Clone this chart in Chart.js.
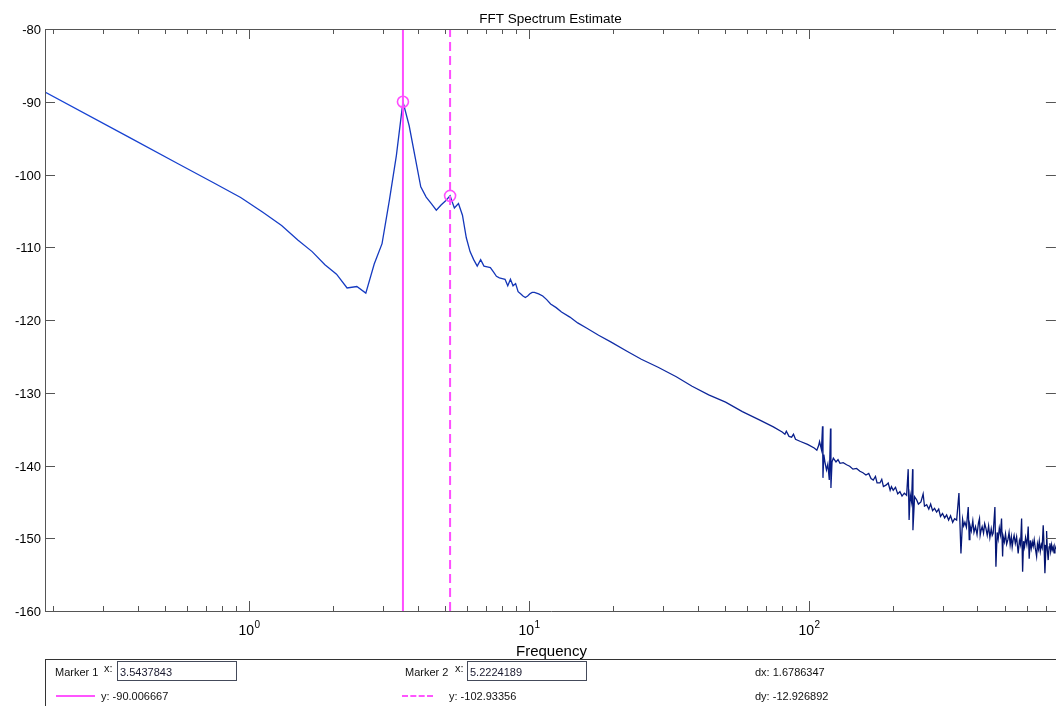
<!DOCTYPE html>
<html>
<head>
<meta charset="utf-8">
<title>FFT Spectrum Estimate</title>
<script src="https://cdn.jsdelivr.net/npm/chart.js@4.4.1/dist/chart.umd.min.js"></script>
<style>
  html, body { margin: 0; padding: 0; background: #fff; overflow: hidden; }
  body { width: 1056px; height: 706px; position: relative; font-family: Arial, "Liberation Sans", sans-serif; }
  #spectrum { position: absolute; left: 0; top: 0; }
  #panel { position: absolute; left: 45px; top: 659px; width: 1020px; height: 60px;
           border-top: 1px solid #333; border-left: 1px solid #333; }
  .t { position: absolute; font-size: 11px; line-height: 12px; color: #111; white-space: nowrap; }
  .box { position: absolute; height: 20px; border: 1px solid #444a5a; background: #fff;
         font-size: 11px; line-height: 20px; padding-left: 2px; box-sizing: border-box; color: #1a1a30; }
  .solid { position: absolute; height: 2px; background: #ff55ff; }
  .dash { position: absolute; height: 0; border-top: 2px dashed #ff55ff; }
</style>
</head>
<body>
<!-- the plot box runs to the right window edge; the canvas is a little wider so the point overflow padding lands off-screen -->
<canvas id="spectrum" width="1063" height="706"></canvas>

<div class="t" style="left:55px;top:666px">Marker 1</div>
<div class="t" style="left:104px;top:662px">x:</div>
<div class="box" id="m1x" style="left:117px;top:661px;width:120px"></div>
<div class="solid" style="left:56px;top:695px;width:39px"></div>
<div class="t" id="m1y" style="left:101px;top:690px"></div>

<div class="t" style="left:405px;top:666px">Marker 2</div>
<div class="t" style="left:455px;top:662px">x:</div>
<div class="box" id="m2x" style="left:467px;top:661px;width:120px"></div>
<div class="dash" style="left:402px;top:695px;width:31px"></div>
<div class="t" id="m2y" style="left:449px;top:690px"></div>

<div class="t" id="mdx" style="left:755px;top:666px"></div>
<div class="t" id="mdy" style="left:755px;top:690px"></div>
<div id="panel"></div>

<script>
// spectrum estimate, frequency in Hz and power in dB
const freqHz = [
  0.1865, 0.3730, 0.5595, 0.7460, 0.9326, 1.119, 1.306, 1.492, 1.679, 1.865,
  2.052, 2.238, 2.425, 2.611, 2.798, 2.984, 3.171, 3.357, 3.5437843, 3.730,
  3.917, 4.103, 4.290, 4.476, 4.663, 4.849, 5.036, 5.2224189, 5.409, 5.595,
  5.782, 5.968, 6.155, 6.341, 6.528, 6.715, 6.901, 7.088, 7.274, 7.461,
  7.647, 7.834, 8.020, 8.207, 8.393, 8.580, 8.766, 8.953, 9.139, 9.326,
  9.512, 9.699, 9.885, 10.07, 10.26, 10.45, 10.63, 10.82, 11.19, 11.56,
  11.94, 12.50, 13.06, 13.99, 14.92, 16.04, 17.72, 19.58, 22.38, 25.18,
  28.91, 33.57, 38.23, 43.83, 50.36, 57.82, 66.21, 74.60, 80.20, 82.06,
  83.00, 84.86, 86.73, 88.03, 89.52, 93.26, 98.85, 104.4, 106.7, 108.2,
  109.1, 110.8, 111.8, 112.2, 113.0, 114.0, 115.5, 116.8, 118.2, 119.4,
  119.8, 120.9, 122.2, 124.9, 127.0, 129.1, 132.5, 136.3, 139.8, 143.6,
  147.9, 152.1, 155.9, 159.8, 163.5, 166.6, 169.7, 172.8, 175.1, 179.3,
  182.0, 184.5, 188.4, 191.9, 195.0, 197.1, 200.0, 203.8, 207.5, 211.3,
  215.0, 219.1, 223.3, 226.2, 227.9, 230.0, 232.5, 234.6, 235.2, 238.4,
  242.4, 246.0, 251.2, 255.8, 258.6, 263.3, 268.0, 272.1, 276.5, 280.9,
  285.8, 290.7, 295.0, 300.0, 305.3, 310.3, 315.4, 320.5, 326.1, 331.4,
  337.0, 343.4, 349.1, 353.9, 357.0, 360.7, 365.2, 370.7, 373.7, 375.8,
  380.1, 384.9, 388.6, 393.5, 398.5, 403.2, 406.6, 408.9, 412.1, 415.7,
  420.4, 424.4, 428.6, 433.4, 438.3, 442.9, 447.9, 451.6, 455.2, 461.6,
  465.5, 470.2, 474.3, 478.6, 483.0, 487.5, 491.8, 494.3, 498.9, 503.7,
  508.5, 513.7, 518.7, 523.4, 528.4, 532.1, 536.5, 540.6, 546.0, 551.8,
  559.0, 564.8, 570.0, 575.0, 579.8, 584.3, 589.1, 594.0, 600.4, 603.5,
  607.0, 612.0, 617.4, 622.6, 627.8, 632.6, 637.8, 643.2, 650.5, 655.1,
  660.5, 665.0, 670.6, 676.1, 681.0, 686.8, 691.5, 696.5, 703.0, 706.2,
  710.5, 715.5, 720.9, 725.7, 730.3, 735.8, 740.3, 745.7, 751.0, 756.4,
  762.4
];
const powerDb = [
  -88.66, -94.90, -98.56, -101.14, -103.16, -105.2, -107.0, -109.0, -110.6, -112.4,
  -113.7, -115.6, -115.4, -116.3, -112.3, -109.5, -103.5, -97.4, -90.006667, -93.3,
  -97.6, -101.7, -103.1, -104.0, -104.9, -104.2, -103.6, -102.93356, -104.6, -104.0,
  -105.6, -108.7, -110.6, -111.7, -112.6, -111.7, -112.6, -112.7, -112.8, -113.4,
  -114.0, -114.2, -114.3, -114.4, -115.3, -114.4, -115.3, -115.0, -116.1, -116.4,
  -116.7, -116.9, -116.7, -116.4, -116.2, -116.2, -116.3, -116.4, -116.7, -117.2,
  -117.8, -118.3, -118.9, -119.6, -120.4, -121.1, -122.1, -123.0, -124.3, -125.4,
  -126.5, -127.8, -129.1, -130.3, -131.3, -132.6, -133.7, -134.7, -135.4, -135.7,
  -135.3, -136.0, -136.1, -135.7, -136.4, -136.7, -137.1, -137.6, -137.9, -137.3,
  -136.7, -137.8, -134.6, -141.7, -138.5, -139.5, -140.6, -139.8, -142.0, -134.9,
  -143.1, -139.5, -139.0, -139.5, -139.2, -139.7, -139.6, -139.9, -140.1, -140.5,
  -140.4, -140.8, -141.0, -141.3, -141.1, -141.8, -142.0, -141.5, -142.4, -142.4,
  -141.9, -142.9, -142.7, -142.4, -143.4, -142.9, -143.4, -143.0, -143.9, -143.6,
  -144.2, -143.8, -144.1, -140.5, -147.5, -144.0, -145.0, -140.5, -148.9, -144.3,
  -144.7, -145.3, -145.0, -143.9, -145.6, -145.4, -146.0, -145.3, -146.2, -145.9,
  -146.4, -146.0, -147.0, -146.6, -147.2, -146.8, -147.5, -146.9, -147.8, -147.3,
  -147.5, -143.8, -152.1, -147.4, -148.3, -147.8, -148.5, -145.7, -150.2, -148.2,
  -149.0, -147.6, -149.2, -148.4, -149.5, -147.9, -147.3, -149.6, -148.9, -148.4,
  -149.3, -148.0, -148.6, -149.6, -148.3, -149.9, -148.7, -149.6, -149.3, -145.7,
  -153.9, -149.2, -150.1, -148.6, -149.5, -147.3, -152.5, -149.8, -150.5, -149.4,
  -150.8, -150.2, -149.2, -150.9, -149.8, -151.2, -150.2, -149.6, -150.7, -149.8,
  -152.1, -150.3, -150.9, -147.3, -154.6, -150.4, -151.2, -149.9, -150.9, -150.0,
  -148.4, -152.8, -150.3, -151.4, -150.5, -151.1, -150.2, -151.3, -152.5, -150.8,
  -151.5, -150.4, -151.8, -150.9, -151.3, -148.2, -150.9, -154.8, -151.0, -149.0,
  -151.6, -153.0, -151.2, -150.7, -151.8, -150.9, -151.6, -151.2, -152.0, -151.1,
  -151.5
];

// data cursors placed on the two peaks
const markerNames = ['Marker 1', 'Marker 2'];
const markerFreqs = [3.5437843, 5.2224189];
const markerPowers = [-90.006667, -102.93356];
const markerDx = 1.6786347;
const markerDy = -12.926892;

// axis ticks
const yTicks = [-80, -90, -100, -110, -120, -130, -140, -150, -160];
const xMajorTicks = [1, 10, 100];
const xMajorExponents = ['0', '1', '2'];
const xMinorTicks = [0.2, 0.3, 0.4, 0.5, 0.6, 0.7, 0.8, 0.9,
  2, 3, 4, 5, 6, 7, 8, 9, 20, 30, 40, 50, 60, 70, 80, 90,
  200, 300, 400, 500, 600, 700];

const xMin = 0.1865, xMax = 762.4;
const yMin = -160, yMax = -80;
const magenta = '#ff4dff';

document.getElementById('m1x').textContent = String(markerFreqs[0]);
document.getElementById('m2x').textContent = String(markerFreqs[1]);
document.getElementById('m1y').textContent = 'y: ' + markerPowers[0];
document.getElementById('m2y').textContent = 'y: ' + markerPowers[1];
document.getElementById('mdx').textContent = 'dx: ' + markerDx;
document.getElementById('mdy').textContent = 'dy: ' + markerDy;

const spectrumPoints = freqHz.map((f, i) => ({ x: f, y: powerDb[i] }));
const cursorPoints = markerFreqs.map((f, i) => ({ x: f, y: markerPowers[i] }));

// box, inward ticks, labels and titles
const axesFrame = {
  id: 'axesFrame',
  afterDraw(chart) {
    const { ctx, chartArea: a, scales } = chart;
    const x = scales.x, y = scales.y;
    const seg = (x1, y1, x2, y2) => { ctx.beginPath(); ctx.moveTo(x1, y1); ctx.lineTo(x2, y2); ctx.stroke(); };
    ctx.save();
    ctx.strokeStyle = '#555';
    ctx.lineWidth = 1;
    // left, top and bottom edges (the right edge sits just past the window)
    seg(a.left + 0.5, a.top + 0.5, a.right + 2, a.top + 0.5);
    seg(a.left + 0.5, a.bottom + 0.5, a.right + 2, a.bottom + 0.5);
    seg(a.left + 0.5, a.top + 0.5, a.left + 0.5, a.bottom + 0.5);

    ctx.fillStyle = '#000';
    ctx.font = '13px Arial, "Liberation Sans", sans-serif';
    ctx.textAlign = 'right';
    ctx.textBaseline = 'middle';
    yTicks.forEach(v => {
      const py = Math.round(y.getPixelForValue(v)) + 0.5;
      seg(a.left, py, a.left + 10, py);
      seg(a.right - 10, py, a.right, py);
      ctx.fillText(String(v), a.left - 4, py + 1);
    });

    xMinorTicks.forEach(v => {
      const px = Math.round(x.getPixelForValue(v)) + 0.5;
      seg(px, a.bottom, px, a.bottom - 5);
      seg(px, a.top, px, a.top + 5);
    });
    xMajorTicks.forEach((v, i) => {
      const px = Math.round(x.getPixelForValue(v)) + 0.5;
      seg(px, a.bottom, px, a.bottom - 10);
      seg(px, a.top, px, a.top + 10);
      ctx.textAlign = 'left';
      ctx.textBaseline = 'alphabetic';
      ctx.font = '14px Arial, "Liberation Sans", sans-serif';
      ctx.fillText('10', px - 11, a.bottom + 24);
      ctx.font = '10px Arial, "Liberation Sans", sans-serif';
      ctx.fillText(xMajorExponents[i], px + 5, a.bottom + 17);
    });

    ctx.textAlign = 'center';
    ctx.textBaseline = 'alphabetic';
    ctx.font = '13.5px Arial, "Liberation Sans", sans-serif';
    ctx.fillText('FFT Spectrum Estimate', (a.left + a.right) / 2, 23);
    ctx.font = '15px Arial, "Liberation Sans", sans-serif';
    ctx.fillText('Frequency', (a.left + a.right) / 2 + 1, 656);
    ctx.restore();
  }
};

new Chart(document.getElementById('spectrum').getContext('2d'), {
  type: 'line',
  data: {
    datasets: [
      {
        label: markerNames[0],
        data: [{ x: markerFreqs[0], y: yMin }, { x: markerFreqs[0], y: yMax }],
        borderColor: magenta,
        borderWidth: 2,
        pointRadius: 0,
        order: 1
      },
      {
        label: markerNames[1],
        data: [{ x: markerFreqs[1], y: yMin }, { x: markerFreqs[1], y: yMax }],
        borderColor: magenta,
        borderWidth: 2,
        borderDash: [9, 5],
        pointRadius: 0,
        order: 1
      },
      {
        label: 'Spectrum',
        data: spectrumPoints,
        borderColor(c) {
          const area = c.chart.chartArea;
          if (!area) return '#1238c0';
          const g = c.chart.ctx.createLinearGradient(area.left, 0, area.right, 0);
          g.addColorStop(0, '#1744d6');
          g.addColorStop(0.45, '#1436b8');
          g.addColorStop(0.72, '#0b2190');
          g.addColorStop(1, '#02126c');
          return g;
        },
        borderWidth: 1.3,
        pointRadius: 0,
        tension: 0,
        order: 2
      },
      {
        label: 'Cursors',
        data: cursorPoints,
        showLine: false,
        pointRadius: 5.5,
        pointStyle: 'circle',
        pointBorderColor: magenta,
        pointBackgroundColor: 'rgba(0,0,0,0)',
        pointBorderWidth: 1.6,
        order: 0
      }
    ]
  },
  options: {
    responsive: false,
    animation: false,
    devicePixelRatio: 1,
    layout: { padding: { left: 45, top: 29, right: 0, bottom: 95 } },
    plugins: {
      legend: { display: false },
      title: { display: false },
      tooltip: { enabled: false }
    },
    scales: {
      x: { type: 'logarithmic', min: xMin, max: xMax, display: false },
      y: { type: 'linear', min: yMin, max: yMax, display: false }
    }
  },
  plugins: [axesFrame]
});
</script>
</body>
</html>
